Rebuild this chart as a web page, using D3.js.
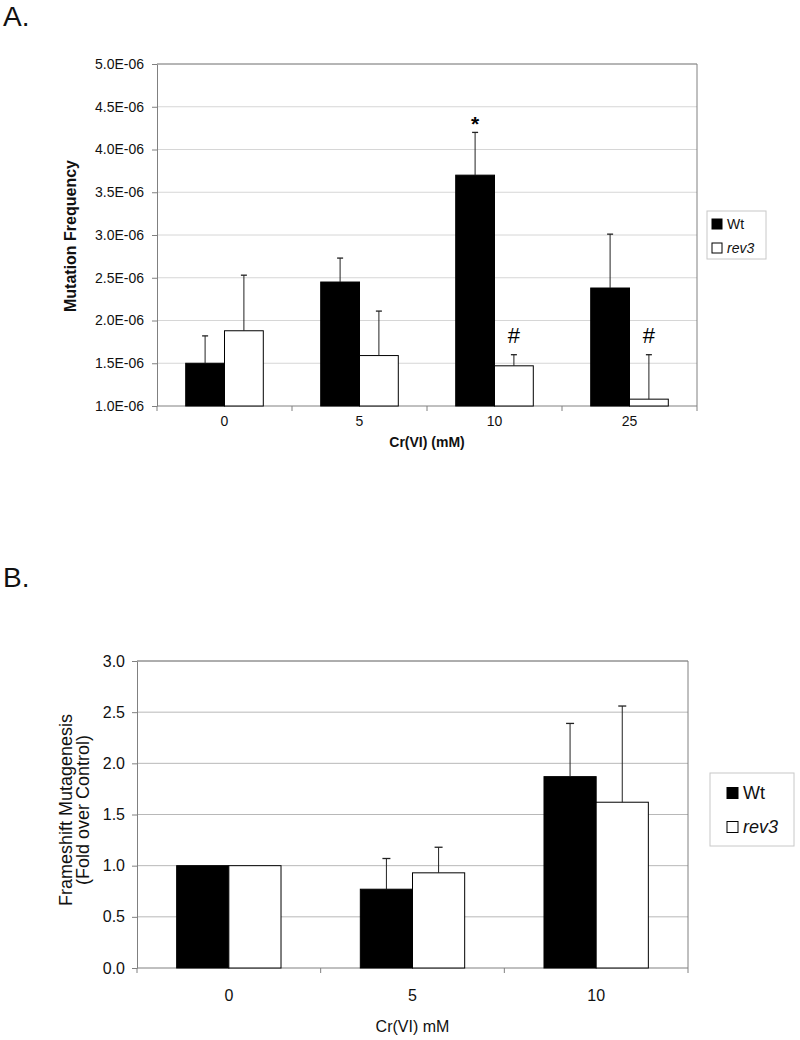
<!DOCTYPE html>
<html>
<head>
<meta charset="utf-8">
<script src="https://cdn.jsdelivr.net/npm/d3@7"></script>
<style>
  html, body { margin: 0; padding: 0; background: #fff; }
  svg { display: block; font-family: "Liberation Sans", Arial, sans-serif; }
</style>
</head>
<body>
<svg id="chart" width="800" height="1040"></svg>
<script>
// ---------- Data ----------
const series = ["Wt", "rev3"];

// Panel A
const categoriesA = ["0", "5", "10", "25"];
const wtA = [1.50e-6, 2.45e-6, 3.70e-6, 2.38e-6];
const rev3A = [1.88e-6, 1.59e-6, 1.47e-6, 1.08e-6];
const wtErrTopA = [1.82e-6, 2.73e-6, 4.20e-6, 3.01e-6];
const rev3ErrTopA = [2.53e-6, 2.11e-6, 1.60e-6, 1.60e-6];
const wtMarkA = ["", "", "*", ""];
const rev3MarkA = ["", "", "#", "#"];
const yTicksA = [1.0e-6, 1.5e-6, 2.0e-6, 2.5e-6, 3.0e-6, 3.5e-6, 4.0e-6, 4.5e-6, 5.0e-6];
const yTickLabelsA = ["1.0E-06", "1.5E-06", "2.0E-06", "2.5E-06", "3.0E-06", "3.5E-06", "4.0E-06", "4.5E-06", "5.0E-06"];

// Panel B
const categoriesB = ["0", "5", "10"];
const wtB = [1.00, 0.77, 1.87];
const rev3B = [1.00, 0.93, 1.62];
const wtErrTopB = [null, 1.07, 2.39];
const rev3ErrTopB = [null, 1.18, 2.56];
const yTicksB = [0, 0.5, 1.0, 1.5, 2.0, 2.5, 3.0];
const yTickLabelsB = ["0.0", "0.5", "1.0", "1.5", "2.0", "2.5", "3.0"];

// ---------- Drawing ----------
const svg = d3.select("#chart");
const fills = { "Wt": "#000", "rev3": "#fff" };

function drawPanel(cfg) {
  const g = svg.append("g");
  const x0 = d3.scaleBand().domain(cfg.categories).range([cfg.left, cfg.right]).paddingInner(0).paddingOuter(0);
  const x1 = d3.scaleBand().domain(series).range([0, x0.bandwidth()]).paddingInner(0).paddingOuter(cfg.barPad);
  const y = d3.scaleLinear().domain(cfg.yDomain).range([cfg.bottom, cfg.top]);

  // gridlines
  g.append("g").selectAll("line").data(cfg.yTicks.slice(1)).join("line")
    .attr("x1", cfg.left).attr("x2", cfg.right)
    .attr("y1", d => y(d)).attr("y2", d => y(d))
    .attr("stroke", cfg.gridColor).attr("stroke-width", 1);

  // plot border (top, right)
  g.append("path")
    .attr("d", `M${cfg.left},${y(cfg.yDomain[1])}H${cfg.right}V${cfg.bottom}`)
    .attr("fill", "none").attr("stroke", "#808080").attr("stroke-width", 1);

  // y axis
  const yAxis = d3.axisLeft(y).tickValues(cfg.yTicks)
    .tickFormat((d, i) => cfg.yTickLabels[i]).tickSizeInner(5).tickSizeOuter(0).tickPadding(cfg.tickPad);
  const ya = g.append("g").attr("transform", `translate(${cfg.left},0)`).call(yAxis);
  ya.attr("font-size", cfg.tickFont).attr("font-family", '"Liberation Sans", Arial, sans-serif');
  ya.select(".domain").attr("stroke", "#808080");
  ya.selectAll(".tick line").attr("stroke", "#808080");
  ya.selectAll("text").attr("fill", "#111");

  // x axis (ticks at category boundaries)
  const xa = g.append("g").attr("transform", `translate(0,${cfg.bottom})`);
  xa.append("line").attr("x1", cfg.left).attr("x2", cfg.right).attr("y1", 0).attr("y2", 0).attr("stroke", "#808080");
  const bounds = cfg.categories.map(c => x0(c)).concat([cfg.right]);
  xa.selectAll("line.tk").data(bounds).join("line").attr("class", "tk")
    .attr("x1", d => d).attr("x2", d => d).attr("y1", 0).attr("y2", 5).attr("stroke", "#808080");
  xa.selectAll("text").data(cfg.categories).join("text")
    .attr("x", d => x0(d) + x0.bandwidth() / 2).attr("y", cfg.xLabelDy)
    .attr("text-anchor", "middle").attr("fill", "#111").attr("font-size", cfg.tickFont)
    .text(d => d);

  // bars
  const rows = cfg.categories.map((c, i) => series.map(s => ({
    cat: c, s: s,
    v: s === "Wt" ? cfg.wt[i] : cfg.rev3[i],
    e: s === "Wt" ? cfg.wtErr[i] : cfg.rev3Err[i],
    m: cfg.wtMark ? (s === "Wt" ? cfg.wtMark[i] : cfg.rev3Mark[i]) : ""
  }))).flat();

  g.append("g").selectAll("rect").data(rows).join("rect")
    .attr("x", d => x0(d.cat) + x1(d.s))
    .attr("y", d => y(d.v))
    .attr("width", x1.bandwidth())
    .attr("height", d => y(cfg.yDomain[0]) - y(d.v))
    .attr("fill", d => fills[d.s]).attr("stroke", "#000").attr("stroke-width", 1);

  // error bars (upper only)
  const eb = g.append("g").selectAll("g").data(rows.filter(d => d.e != null)).join("g")
    .attr("transform", d => `translate(${x0(d.cat) + x1(d.s) + x1.bandwidth() / 2},0)`);
  eb.append("line").attr("x1", 0).attr("x2", 0).attr("y1", d => y(d.v)).attr("y2", d => y(d.e))
    .attr("stroke", "#222").attr("stroke-width", 1);
  eb.append("line").attr("x1", -cfg.cap).attr("x2", cfg.cap).attr("y1", d => y(d.e)).attr("y2", d => y(d.e))
    .attr("stroke", "#222").attr("stroke-width", 1.3);

  // significance marks
  const markOffset = { "*": -1, "#": -12 };
  const markStyle = { "*": ["21px", "bold"], "#": ["22px", "normal"] };
  g.append("g").selectAll("text").data(rows.filter(d => d.m)).join("text")
    .attr("x", d => x0(d.cat) + x1(d.s) + x1.bandwidth() / 2)
    .attr("y", d => y(d.e) + markOffset[d.m])
    .attr("text-anchor", "middle")
    .style("font-size", d => markStyle[d.m][0]).style("font-weight", d => markStyle[d.m][1])
    .text(d => d.m);

  // x title
  g.append("text").attr("x", (cfg.left + cfg.right) / 2).attr("y", cfg.xTitleY)
    .attr("text-anchor", "middle").style("font-size", cfg.xTitleFont + "px")
    .style("font-weight", cfg.titleWeight).attr("fill", "#111").text(cfg.xTitle);

  // y title (rotated, possibly multiline)
  cfg.yTitle.forEach((t, i) => {
    g.append("text")
      .attr("transform", `translate(${cfg.yTitleX[i]},${cfg.yTitleY}) rotate(-90)`)
      .attr("text-anchor", "middle").attr("dy", "0.35em")
      .style("font-size", cfg.yTitleFont + "px").style("font-weight", cfg.titleWeight)
      .attr("fill", "#111").text(t);
  });

  // legend
  const L = cfg.legend;
  const lg = g.append("g");
  lg.append("rect").attr("x", L.x).attr("y", L.y).attr("width", L.w).attr("height", L.h)
    .attr("fill", "#fff").attr("stroke", "#c8c8c8").attr("stroke-width", 1);
  series.forEach((s, i) => {
    const cy = L.y + L.firstY + i * L.step;
    lg.append("rect").attr("x", L.x + L.sqX).attr("y", cy - L.sq / 2).attr("width", L.sq).attr("height", L.sq)
      .attr("fill", fills[s]).attr("stroke", "#000").attr("stroke-width", 1);
    lg.append("text").attr("x", L.x + L.sqX + L.sq + L.gap).attr("y", cy).attr("dy", "0.36em")
      .style("font-size", L.font + "px").style("font-style", s === "rev3" ? "italic" : "normal")
      .attr("fill", "#111").text(s);
  });

  // panel label
  svg.append("text").attr("x", 3).attr("y", cfg.panelY).style("font-size", "28px")
    .attr("fill", "#111").text(cfg.panel);
}

drawPanel({
  panel: "A.", panelY: 26,
  categories: categoriesA, wt: wtA, rev3: rev3A, wtErr: wtErrTopA, rev3Err: rev3ErrTopA,
  wtMark: wtMarkA, rev3Mark: rev3MarkA,
  left: 157, right: 697, top: 64, bottom: 406, yDomain: [1.0e-6, 5.0e-6],
  yTicks: yTicksA, yTickLabels: yTickLabelsA, barPad: 0.74, cap: 3, tickPad: 8,
  gridColor: "#d6d6d6", tickFont: 14, xLabelDy: 20,
  xTitle: "Cr(VI) (mM)", xTitleY: 447, xTitleFont: 14, titleWeight: "bold",
  yTitle: ["Mutation Frequency"], yTitleX: [70], yTitleY: 236, yTitleFont: 16,
  legend: { x: 707, y: 211, w: 59, h: 48, firstY: 13, step: 24, sqX: 5, sq: 10, gap: 5, font: 14 }
});

drawPanel({
  panel: "B.", panelY: 587,
  categories: categoriesB, wt: wtB, rev3: rev3B, wtErr: wtErrTopB, rev3Err: rev3ErrTopB,
  left: 137, right: 688, top: 661, bottom: 968, yDomain: [0, 3],
  yTicks: yTicksB, yTickLabels: yTickLabelsB, barPad: 0.76, cap: 4, tickPad: 7,
  gridColor: "#b8b8b8", tickFont: 16, xLabelDy: 33,
  xTitle: "Cr(VI) mM", xTitleY: 1032, xTitleFont: 16, titleWeight: "normal",
  yTitle: ["Frameshift Mutagenesis", "(Fold over Control)"], yTitleX: [66, 83], yTitleY: 810, yTitleFont: 18,
  legend: { x: 710, y: 773, w: 84, h: 73, firstY: 20, step: 34, sqX: 17, sq: 11, gap: 5, font: 18 }
});
</script>
</body>
</html>
